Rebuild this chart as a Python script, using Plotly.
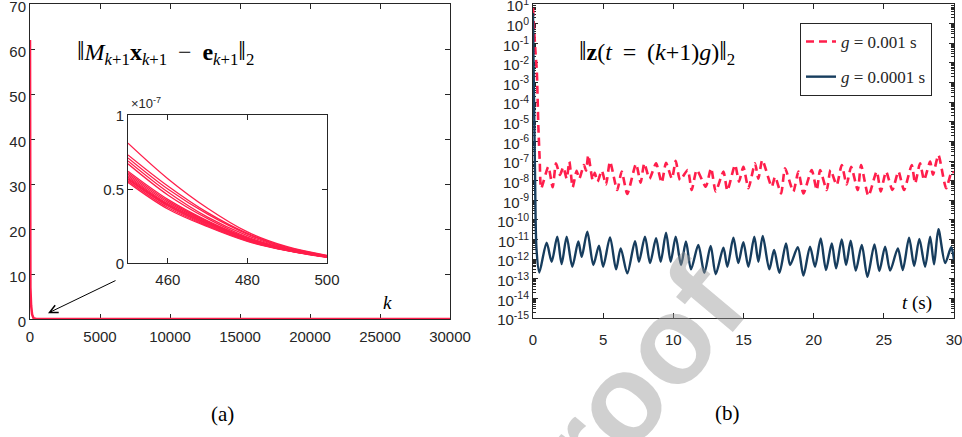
import plotly.graph_objects as go

W, H = 962, 437
RED = "#ff1e4b"
BLUE = "#173d5e"
AX = "#262626"
SANS = "Liberation Sans, Arial, sans-serif"
SERIF = "Liberation Serif, Times New Roman, serif"

# ---------------- data: residual norm (left) ----------------
k_main = [0, 3, 10, 30, 80, 150, 250, 350, 450, 500, 30000]
res_main = [62, 30, 12, 7, 3, 1.0, 0.2, 0.01, 8.1e-8, 5e-9, 0]

k_zoom = [450, 460, 470, 480, 490, 500]
res_zoom = [
    [0.81e-7, 0.57e-7, 0.37e-7, 0.21e-7, 0.110e-7, 0.052e-7],
    [0.73e-7, 0.52e-7, 0.34e-7, 0.20e-7, 0.105e-7, 0.050e-7],
    [0.71e-7, 0.50e-7, 0.33e-7, 0.195e-7, 0.100e-7, 0.048e-7],
    [0.69e-7, 0.48e-7, 0.31e-7, 0.185e-7, 0.097e-7, 0.046e-7],
    [0.67e-7, 0.46e-7, 0.30e-7, 0.175e-7, 0.094e-7, 0.045e-7],
    [0.62e-7, 0.43e-7, 0.285e-7, 0.170e-7, 0.092e-7, 0.044e-7],
    [0.61e-7, 0.42e-7, 0.280e-7, 0.167e-7, 0.090e-7, 0.043e-7],
    [0.60e-7, 0.41e-7, 0.275e-7, 0.163e-7, 0.089e-7, 0.042e-7],
    [0.59e-7, 0.40e-7, 0.270e-7, 0.160e-7, 0.088e-7, 0.041e-7],
    [0.58e-7, 0.395e-7, 0.265e-7, 0.157e-7, 0.087e-7, 0.041e-7],
    [0.57e-7, 0.39e-7, 0.260e-7, 0.155e-7, 0.086e-7, 0.040e-7],
    [0.565e-7, 0.385e-7, 0.255e-7, 0.152e-7, 0.085e-7, 0.040e-7],
    [0.555e-7, 0.375e-7, 0.250e-7, 0.150e-7, 0.084e-7, 0.039e-7],
    [0.545e-7, 0.365e-7, 0.245e-7, 0.146e-7, 0.083e-7, 0.038e-7],
]

# ---------------- data: state norm (right) ----------------
t_coarse = [0, 0.08, 0.18, 0.27, 0.38, 0.48, 0.58, 1.09, 1.40, 1.64, 1.92, 2.16,
            2.40, 2.59, 2.83, 3.11, 3.30, 3.63, 3.78, 3.94, 4.25, 4.40, 4.60,
            4.90, 5.20, 5.49, 6.00, 6.32, 6.72, 7.34, 7.67, 7.93, 8.30, 8.77,
            9.17, 9.48, 9.90, 10.17, 10.48, 11.02, 11.31, 11.67, 12.31, 12.69,
            13.02, 13.57, 13.85, 14.40, 14.68, 14.99, 15.35, 15.82, 16.06,
            16.34, 17.01, 17.25, 17.68, 17.96, 18.55, 18.91, 19.27, 19.86,
            20.22, 20.46, 20.93, 21.20, 21.64, 22.00, 22.35, 22.67, 23.14,
            23.38, 23.90, 24.49, 24.78, 25.16, 25.61, 26.04, 26.44, 26.99,
            27.23, 27.58, 27.87, 28.30, 28.50, 28.89, 29.44, 29.84, 30.00]
z_coarse = [6.3, 0.5, 3.2e-2, 4.0e-3, 6.3e-6, 1.0e-7, 4.0e-9, 5.1e-8, 4.6e-9,
            7.6e-8, 1.95e-8, 4.8e-8, 1.26e-8, 9.3e-8, 4.6e-9, 3.2e-8, 1.26e-8,
            6.3e-8, 3.2e-8, 2.0e-7, 1.07e-8, 2.5e-8, 8.9e-9, 3.2e-8, 6.3e-9,
            9.3e-8, 3.3e-9, 2.9e-8, 2.1e-9, 7.1e-8, 7.9e-9, 7.6e-8, 1.26e-8,
            7.6e-8, 7.9e-9, 8.1e-8, 1.26e-8, 1.02e-7, 1.07e-8, 3.5e-8, 3.3e-9,
            3.5e-8, 4.9e-9, 4.3e-8, 2.8e-9, 2.9e-8, 3.1e-9, 6.3e-8, 8.9e-9,
            5.1e-8, 4.1e-9, 7.6e-8, 1.26e-8, 1.12e-7, 4.9e-9, 1.58e-8, 2.2e-9,
            4.3e-8, 2.8e-9, 2.9e-8, 2.2e-9, 3.5e-8, 3.3e-9, 3.5e-8, 3.3e-9,
            3.5e-8, 6.0e-9, 6.3e-8, 6.3e-9, 5.1e-8, 3.3e-9, 6.3e-8, 1.66e-9,
            2.9e-8, 2.8e-9, 2.9e-8, 3.3e-9, 2.9e-8, 3.3e-9, 6.3e-8, 7.2e-9,
            7.6e-8, 1.07e-8, 9.3e-8, 2.0e-8, 2.0e-7, 4.1e-9, 2.9e-8, 2.5e-8]

t_fine = [0, 0.04, 0.08, 0.15, 0.25, 0.45, 0.97, 1.33, 1.73, 2.04, 2.40, 2.80,
          3.23, 3.47, 3.87, 4.30, 4.70, 5.00, 5.49, 5.92, 6.25, 6.72, 7.27,
          7.55, 7.98, 8.34, 8.77, 9.10, 9.48, 9.81, 10.17, 10.55, 10.90, 11.26,
          11.78, 12.21, 12.66, 13.02, 13.57, 13.85, 14.28, 14.63, 14.99, 15.35,
          15.77, 16.06, 16.37, 16.84, 17.18, 17.56, 18.03, 18.32, 18.87, 19.27,
          19.74, 20.10, 20.50, 20.88, 21.29, 21.60, 22.00, 22.31, 22.64, 23.00,
          23.43, 23.83, 24.33, 24.68, 25.09, 25.45, 26.00, 26.35, 26.80, 27.16,
          27.53, 27.94, 28.30, 28.58, 28.89, 29.37, 29.80, 30.00]
z_fine = [3.5, 1e-2, 6.3e-5, 1e-8, 3.2e-12, 2.1e-13, 6.9e-12, 7.4e-13, 1.38e-11,
          5.6e-13, 1.38e-11, 4.1e-13, 7.9e-12, 1.32e-12, 2.5e-11, 5.0e-13,
          4.9e-12, 4.1e-13, 1.29e-11, 3.0e-13, 3.5e-12, 1.9e-13, 8.3e-12,
          7.4e-13, 1.38e-11, 6.3e-13, 1.15e-11, 7.4e-13, 2.2e-11, 7.4e-13,
          1.38e-11, 5.0e-13, 7.9e-12, 3.0e-13, 5.2e-12, 2.0e-13, 4.7e-12,
          1.7e-13, 3.8e-12, 4.1e-13, 1.23e-11, 6.3e-13, 7.2e-12, 4.1e-13,
          1.38e-11, 7.4e-13, 1.5e-11, 3.0e-13, 2.9e-12, 2.0e-13, 6.3e-12,
          5.0e-13, 4.0e-12, 1.45e-13, 4.3e-12, 4.1e-13, 1.12e-11, 2.8e-13,
          6.3e-12, 3.4e-13, 1.02e-11, 5.0e-13, 8.7e-12, 2.6e-13, 5.2e-12,
          1.26e-13, 5.6e-12, 2.5e-13, 4.3e-12, 2.6e-13, 3.5e-12, 2.8e-13,
          1.23e-11, 4.5e-13, 1.07e-11, 4.1e-13, 1.38e-11, 5.4e-13, 3.3e-11,
          6.3e-13, 4.0e-12, 8.9e-13]

x_ticks_left = [0, 5000, 10000, 15000, 20000, 25000, 30000]
x_text_left = ["0", "5000", "10000", "15000", "20000", "25000", "30000"]
y_ticks_left = [0, 10, 20, 30, 40, 50, 60, 70]
x_ticks_zoom = [460, 480, 500]
y_ticks_zoom = [0, 0.5e-7, 1e-7]
y_text_zoom = ["0", "0.5", "1"]
x_ticks_right = [0, 5, 10, 15, 20, 25, 30]
decades = list(range(-15, 2))


def px(x, y):
    return x / W, 1 - y / H


fig = go.Figure()

fig.add_trace(go.Scatter(x=k_main, y=res_main, mode="lines", xaxis="x", yaxis="y",
                         line=dict(color=RED, width=2.5), showlegend=False))
for curve in res_zoom:
    fig.add_trace(go.Scatter(x=k_zoom, y=curve, mode="lines", xaxis="x3", yaxis="y3",
                             line=dict(color=RED, width=1.3, shape="spline"),
                             showlegend=False))

fig.add_trace(go.Scatter(x=t_coarse, y=z_coarse, mode="lines", xaxis="x2", yaxis="y2",
                         name="<i>g</i> = 0.001 s", legendgroup="a",
                         line=dict(color=RED, width=2.6, dash="8px,5px",
                                   shape="spline", smoothing=0.6)))
fig.add_trace(go.Scatter(x=t_fine, y=z_fine, mode="lines", xaxis="x2", yaxis="y2",
                         name="<i>g</i> = 0.0001 s", legendgroup="b",
                         line=dict(color=BLUE, width=2.4, shape="spline", smoothing=0.8)))

tickfont = dict(family=SANS, size=15, color=AX)
common = dict(showline=True, linecolor=AX, linewidth=1, mirror="ticks",
              ticks="inside", ticklen=5, tickcolor=AX, tickwidth=1,
              showgrid=False, zeroline=False, tickfont=tickfont, automargin=False,
              ticklabeloverflow="allow")

x0, y0 = px(30, 319)
x1, y1 = px(450, 4)
ix0, iy0 = px(128, 263)
ix1, iy1 = px(327, 115)
rx0, ry0 = px(533, 318)
rx1, ry1 = px(954, 4)

minor_vals = [m * 10.0 ** d for d in decades[:-1] for m in range(2, 10)]

fig.update_layout(
    width=W, height=H, margin=dict(l=0, r=0, t=0, b=0, autoexpand=False),
    paper_bgcolor="white", plot_bgcolor="white",
    xaxis=dict(domain=[x0, x1], range=[0, 30000], tickmode="array",
               tickvals=x_ticks_left, ticktext=x_text_left, ticklabelstandoff=4,
               layer="below traces", anchor="y", **common),
    yaxis=dict(domain=[y0, y1], range=[0, 70], tickmode="array",
               tickvals=y_ticks_left, layer="below traces", anchor="x",
               ticklabelshift=3, **common),
    xaxis3=dict(domain=[ix0, ix1], range=[450, 500], tickmode="array",
                tickvals=x_ticks_zoom, anchor="y3", ticklabelstandoff=3, **common),
    yaxis3=dict(domain=[iy0, iy1], range=[0, 1e-7], tickmode="array",
                tickvals=y_ticks_zoom, ticktext=y_text_zoom, anchor="x3",
                ticklabelshift=1, **common),
    xaxis2=dict(domain=[rx0, rx1], range=[0, 30], tickmode="array",
                tickvals=x_ticks_right, anchor="y2", ticklabelstandoff=8,
                layer="below traces", **common),
    yaxis2=dict(domain=[ry0, ry1], type="log", range=[-15, 1], tickmode="array",
                tickvals=[10.0 ** d for d in decades],
                ticktext=["10<sup>%d</sup>" % d for d in decades],
                anchor="x2", layer="below traces", ticklabelshift=2,
                minor=dict(ticks="inside", ticklen=3, tickcolor=AX, tickmode="array",
                           tickvals=minor_vals, showgrid=False),
                **common),
    legend=dict(x=800 / W, y=1 - 23 / H, xanchor="left", yanchor="top",
                bgcolor="white", bordercolor=AX, borderwidth=1,
                font=dict(family=SERIF, size=17, color=AX),
                tracegroupgap=10, itemwidth=30),
)


def label(x, y, text, font, **kw):
    d = dict(x=x / W, y=1 - y / H, xref="paper", yref="paper", showarrow=False,
             xanchor="center", yanchor="middle", text=text, font=font)
    d.update(kw)
    return d


NORM = '<span style="font-size:27px">‖</span>'
SP = "\u2009"
math = dict(family=SERIF, size=24, color="black")
ann = [
    label(165, 53, NORM + "<i>M</i><sub><i>k</i>+1</sub><b>x</b><sub><i>k</i>+1</sub>"
                   + SP + " − " + SP + "<b>e</b><sub><i>k</i>+1</sub>" + NORM
                   + "<sub>2</sub>", math),
    label(657, 53, NORM + "<b>z</b>(<i>t</i>" + SP + " = " + SP
                   + "(<i>k</i>+1)<i>g</i>)" + NORM + "<sub>2</sub>", math),
    label(387, 302, "<i>k</i>", dict(family=SERIF, size=19, color="black")),
    label(917, 303, "<i>t</i> (s)", dict(family=SERIF, size=19, color="black")),
    label(222, 414, "(a)", dict(family=SERIF, size=21, color="black")),
    label(727, 413, "(b)", dict(family=SERIF, size=21, color="black")),
    label(129, 113, "×10<sup>-7</sup>", dict(family=SANS, size=13, color=AX),
          xanchor="left", yanchor="bottom"),
    # arrow pointing to the zoomed region
    dict(x=1286, y=1.3, xref="x", yref="y", ax=6214, ay=8.7, axref="x", ayref="y",
         text="", showarrow=True, arrowhead=5, arrowsize=1.6, arrowwidth=1,
         arrowcolor="black"),
    # light diagonal watermark
    label(616, 403, "<b>proof</b>", dict(family=SANS, size=125,
                                         color="rgba(150,150,150,0.45)"),
          textangle=-50),
]
fig.update_layout(annotations=ann)

fig.write_html("out.html")
